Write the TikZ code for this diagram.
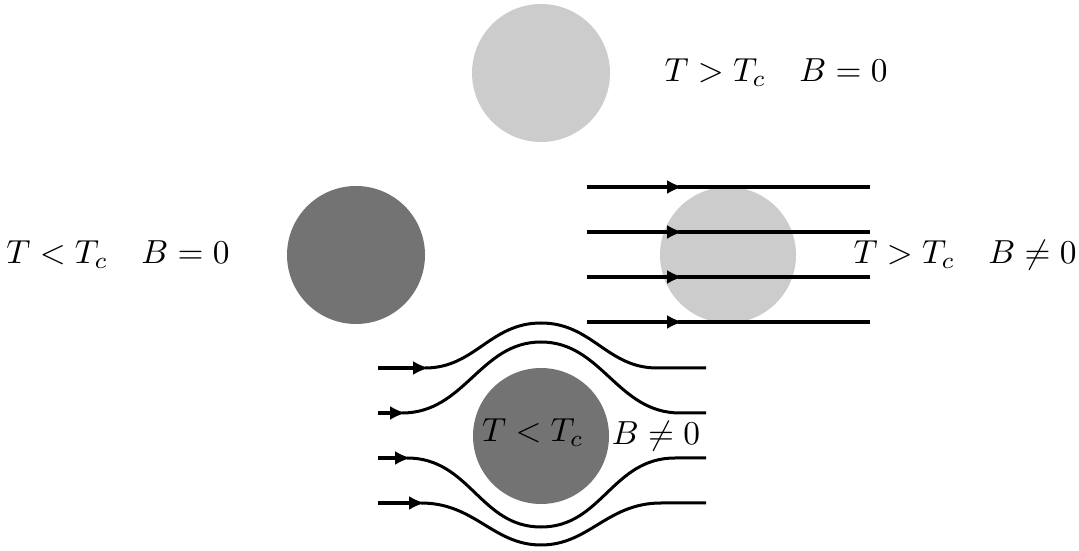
\documentclass[tikz,border=0pt]{standalone}
\usetikzlibrary{arrows.meta}
\definecolor{lightdisk}{gray}{0.80}
\definecolor{darkdisk}{gray}{0.45}
\begin{document}
\begin{tikzpicture}[x=0.3pt,y=-0.3pt,
  light/.style={fill=lightdisk,draw=none},
  dark/.style={fill=darkdisk,draw=none},
  fieldline/.style={line width=1.2pt},
  bentline/.style={line width=0.9pt},
  tip/.style={-{Latex[length=4.8pt,width=4.2pt]}},
  lbl/.style={inner sep=0pt}]
\useasboundingbox (0,0) rectangle (1079,551);
% disks
\fill[light] (541,73) circle[radius=69];
\fill[dark] (356,255) circle[radius=69];
\fill[light] (728,255) circle[radius=68];
\fill[dark] (541,436) circle[radius=68];
% labels
\node[lbl] (l1) at (776,73) {$T>T_c\quad B=0$};
\node[lbl] (l2) at (118,255) {$T<T_c\quad B=0$};
\node[lbl] (l3) at (965,255) {$T>T_c\quad B\neq 0$};
\node[lbl] (l4a) at (533,433) {$T<T_c$};
\node[lbl] (l4b) at (656,436) {$B\neq 0$};
% straight field lines
\foreach \y in {187,232,277,322}{
  \draw[fieldline,tip] (587,\y) -- (683,\y);
  \draw[fieldline] (678,\y) -- (870,\y);
}
% expelled field lines
\draw[bentline,line width=1.3pt,tip] (378,368) -- (429,368);
\draw[bentline] (425,368) .. controls (475,368) and (490,323) .. (541,323)
  .. controls (592,323) and (607,368) .. (657,368) -- (706,368);
\draw[bentline,line width=1.3pt,tip] (378,413) -- (406,413);
\draw[bentline] (402,413) .. controls (465,413) and (480,342) .. (541,342)
  .. controls (602,342) and (617,413) .. (680,413) -- (706,413);
\draw[bentline,line width=1.3pt,tip] (378,458) -- (411,458);
\draw[bentline] (407,458) .. controls (470,458) and (480,527) .. (541,527)
  .. controls (602,527) and (612,458) .. (675,458) -- (706,458);
\draw[bentline,line width=1.3pt,tip] (378,503) -- (425,503);
\draw[bentline] (421,503) .. controls (475,503) and (493,545) .. (541,545)
  .. controls (589,545) and (607,503) .. (661,503) -- (706,503);
\end{tikzpicture}
\end{document}
